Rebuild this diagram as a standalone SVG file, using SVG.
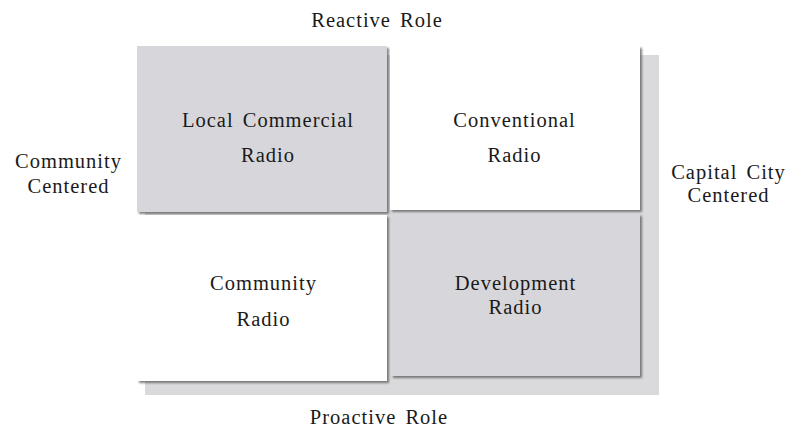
<svg xmlns="http://www.w3.org/2000/svg" width="789" height="430" viewBox="0 0 789 430">
<defs>
<filter id="sh" x="-5%" y="-5%" width="115%" height="115%">
<feDropShadow dx="2" dy="2" stdDeviation="1.3" flood-color="#555" flood-opacity="0.75"/>
</filter>
</defs>
<style>
text{font-family:"Liberation Serif","Times New Roman",serif;font-size:20.5px;fill:#1a1a1a;text-anchor:middle;letter-spacing:1px;word-spacing:3px}
.gray{fill:#d7d7db}
.white{fill:#ffffff}
</style>
<rect x="0" y="0" width="789" height="430" fill="#ffffff"/>
<rect id="backdrop" x="145" y="55" width="514" height="340" fill="#dadadc"/>
<g id="connectors"></g>
<g id="local-commercial">
<rect class="gray" x="137" y="46" width="250" height="166" filter="url(#sh)"/>
<text x="268" y="127">Local Commercial</text>
<text x="268" y="162">Radio</text>
</g>
<g id="conventional">
<rect class="white" x="390" y="46" width="250" height="164" filter="url(#sh)"/>
<text x="514.5" y="127">Conventional</text>
<text x="514.5" y="162">Radio</text>
</g>
<g id="community">
<rect class="white" x="137" y="215" width="250" height="166" filter="url(#sh)"/>
<text x="263.5" y="290">Community</text>
<text x="263.5" y="326">Radio</text>
</g>
<g id="development">
<rect class="gray" x="391" y="214" width="249" height="162" filter="url(#sh)"/>
<text x="515.5" y="290">Development</text>
<text x="515.5" y="314">Radio</text>
</g>
<g id="labels">
<text x="377" y="27">Reactive Role</text>
<text x="379" y="424">Proactive Role</text>
<text x="68.5" y="168">Community</text>
<text x="68.5" y="193">Centered</text>
<text x="728.5" y="179">Capital City</text>
<text x="728.5" y="202">Centered</text>
</g>
</svg>
